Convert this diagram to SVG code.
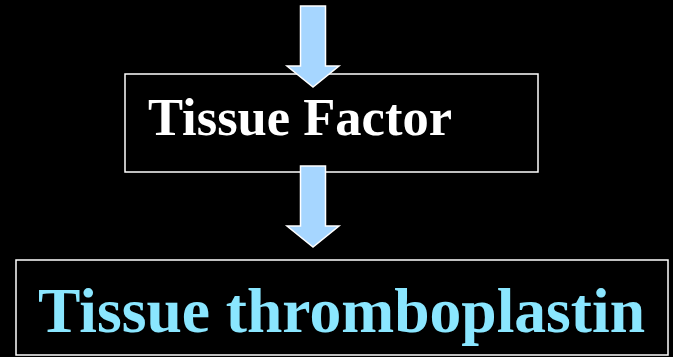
<svg xmlns="http://www.w3.org/2000/svg" width="673" height="357" viewBox="0 0 673 357">
<style>
.box{fill:#000;stroke:#fff;stroke-width:1.5}
.arrow{fill:#A6D6FF;stroke:#fff;stroke-width:1.5;stroke-linejoin:miter}
.lbl{font-family:"Liberation Serif","Times New Roman",serif;font-weight:bold}
</style>
<rect width="673" height="357" fill="#000"/>
<g id="node-tissue-factor">
<rect class="box" x="125" y="74" width="413" height="98"/>
<text class="lbl" x="148" y="135" font-size="53" fill="#fff" textLength="304" lengthAdjust="spacingAndGlyphs">Tissue Factor</text>
</g>
<g id="node-tissue-thromboplastin">
<rect class="box" x="16" y="260" width="652" height="95"/>
<text class="lbl" x="38" y="332" font-size="63.5" fill="#8AE6FF" textLength="607" lengthAdjust="spacingAndGlyphs">Tissue thromboplastin</text>
</g>
<g id="connectors">
<path class="arrow" d="M300.5,6 H325.5 V66 H339 L313,87 L287,66 H300.5 Z"/>
<path class="arrow" d="M300.5,166 H325.5 V226 H339 L313,247 L287,226 H300.5 Z"/>
</g>
</svg>
